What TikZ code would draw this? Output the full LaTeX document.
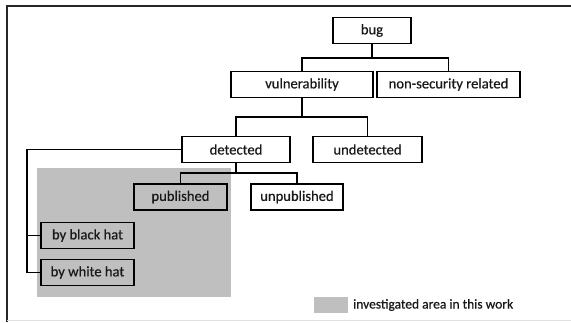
\documentclass[tikz,border=0pt]{standalone}
\usepackage{fontspec}
\setmainfont{Carlito}
\newfontfamily\diagfont[FakeBold=0.5]{Carlito}
\begin{document}
\begin{tikzpicture}[x=1pt,y=-1pt,
  box/.style={draw=black,line width=1.9pt,minimum height=26pt,inner sep=0pt,font=\diagfont\fontsize{14.6}{16}\selectfont,text=black!90},
  conn/.style={line width=1.6pt,black}]
\useasboundingbox (0,0) rectangle (571,322);
\fill[white] (0,0) rectangle (571,322);
% frame
\draw[line width=1.6pt,black!85] (7,322) -- (7,6) -- (571,6);
\draw[line width=0.6pt,black!12] (7,320) -- (571,320);
% investigated area
\fill[black!25] (37,168) rectangle (231,297);
% nodes
\node[box,minimum width=78pt] (bug) at (372,30.5) {bug};
\node[box,minimum width=142pt] (vul) at (302,84.5) {vulnerability};
\node[box,minimum width=143pt] (nonsec) at (448.5,84.5) {non-security related};
\node[box,minimum width=108pt] (det) at (236,149.5) {detected};
\node[box,minimum width=109pt] (undet) at (367.5,149.5) {undetected};
\node[box,minimum width=93pt] (pub) at (180.5,197) {published};
\node[box,minimum width=92pt] (unpub) at (297,197) {unpublished};
\node[box,minimum width=93pt] (bh) at (87.5,235.5) {by black hat};
\node[box,minimum width=93pt] (wh) at (87.5,272.5) {by white hat};
% connectors
\coordinate (j1) at (372,58);
\coordinate (j2) at (302,117);
\coordinate (j3) at (236,173);
\coordinate (lx) at (27,149.5);
\draw[conn] (bug.south) -- (j1);
\draw[conn] (vul.north) |- (j1) -| (nonsec.north);
\draw[conn] (vul.south) -- (j2);
\draw[conn] (det.north) |- (j2) -| (undet.north);
\draw[conn] (det.south) -- (j3);
\draw[conn] (pub.north) |- (j3) -| (unpub.north);
\draw[conn] (det.west) -- (lx) |- (wh.west);
\draw[conn] (lx) |- (bh.west);
% legend
\node[fill=black!25,minimum width=34pt,minimum height=16pt,inner sep=0pt] (legsq) at (331,305) {};
\node[anchor=west,inner sep=0pt,font=\diagfont\fontsize{13.5}{15}\selectfont,text=black!90] (legtx) at (353,305) {investigated area in this work};
\end{tikzpicture}
\end{document}
